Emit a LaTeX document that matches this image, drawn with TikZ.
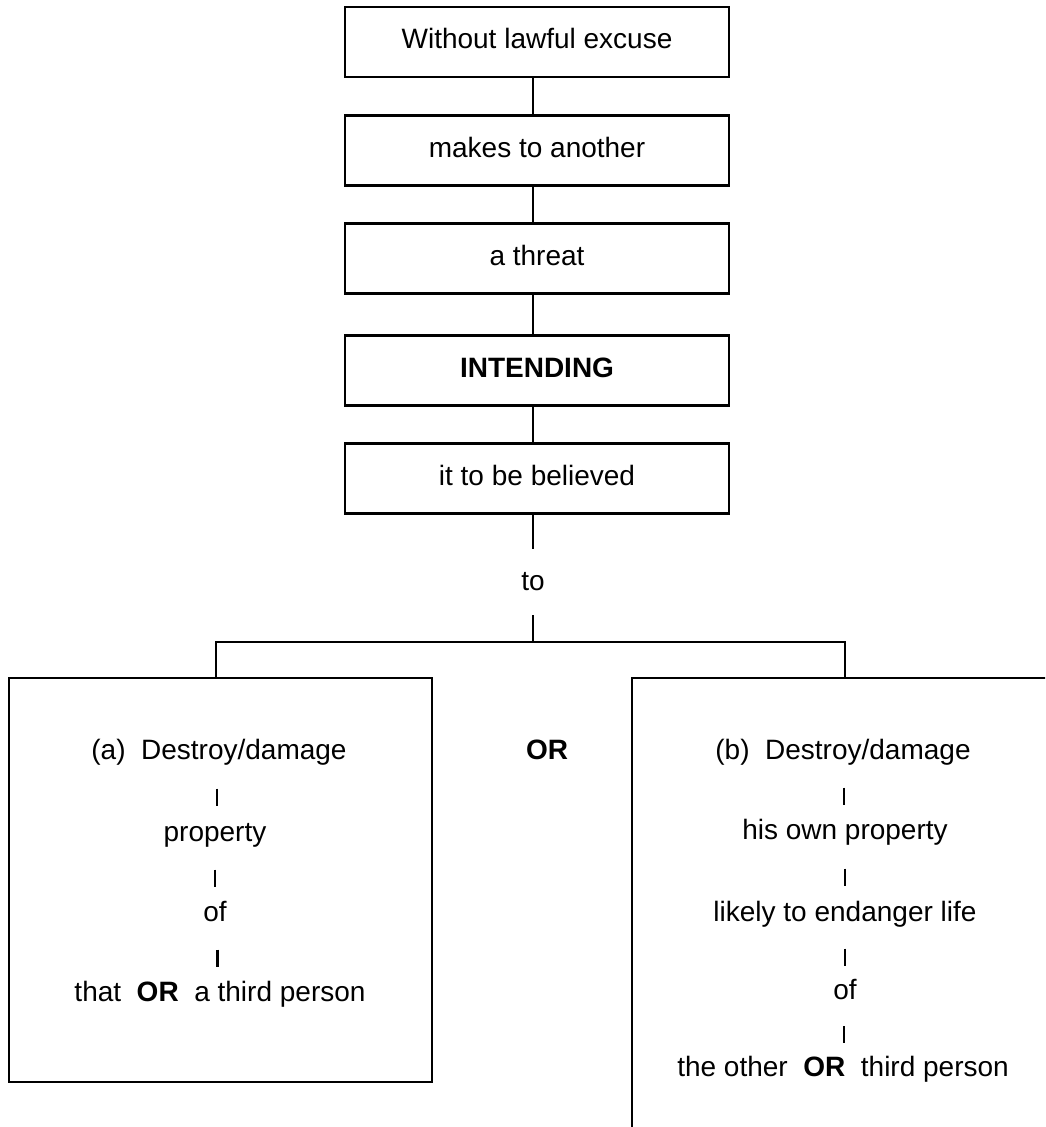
\documentclass[tikz,border=0pt]{standalone}
\usepackage{fontspec}
\setmainfont{Liberation Sans}
\usetikzlibrary{calc}
\newcommand\mybar[2]{\draw[barline] ($(#1.base)!0.5!(#2.base)+(0,-11.5)$) -- ($(#1.base)!0.5!(#2.base)+(0,5.5)$);}
\begin{document}
\begin{tikzpicture}[x=0.75pt,y=-0.75pt,line width=1.6pt,
  font=\fontsize{21}{25}\selectfont,
  stepbox/.style={draw,minimum width=288pt,minimum height=52.5pt,inner sep=0pt,text height=15pt,text depth=5pt},
  bigbox/.style={draw,inner sep=0pt},
  txt/.style={inner sep=0pt,anchor=base},
  barline/.style={line width=2pt}]
\useasboundingbox (0,0) rectangle (1045,1127);
\fill[white] (0,0) rectangle (1045,1127);
\clip (0,0) rectangle (1045,1127);
% top chain
\node[stepbox] (b1) at (537,42) {Without lawful excuse};
\node[stepbox] (b2) at (537,150.5) {makes to another};
\node[stepbox] (b3) at (537,258.5) {a threat};
\node[stepbox] (b4) at (537,370.5) {\textbf{INTENDING}};
\node[stepbox] (b5) at (537,478.5) {it to be believed};
\node[inner sep=0pt,minimum height=48pt] (to) at (533,582) {to};
\coordinate (jl) at (216,642);
\coordinate (jr) at (845,642);
% big boxes
\node[bigbox,minimum width=317.25pt,minimum height=303pt] (boxa) at (220.5,880) {};
\node[bigbox,minimum width=316.5pt,minimum height=391.5pt] (boxb) at (843,939) {};
% connectors
\draw (b1.south -| to) -- (b2.north -| to);
\draw (b2.south -| to) -- (b3.north -| to);
\draw (b3.south -| to) -- (b4.north -| to);
\draw (b4.south -| to) -- (b5.north -| to);
\draw (b5.south -| to) -- (to.north);
\draw (to.south) -- (to.south |- jl);
\draw (jl |- boxa.north) -- (jl) -- (jr) -- (jr |- boxb.north);
% middle OR
\node[txt] (mor) at (547,759) {\textbf{OR}};
% left box texts
\node[txt] (a1) at (219,759) {(a)\ \ Destroy/damage};
\node[txt] (a2) at (215,841) {property};
\node[txt] (a3) at (215,921) {of};
\node[txt] (a4) at (220,1001) {that\ \ \textbf{OR}\ \ a third person};
\mybar{a1}{a2}
\mybar{a2}{a3}
\mybar{a3}{a4}
% right box texts
\node[txt] (r1) at (843,759) {(b)\ \ Destroy/damage};
\node[txt] (r2) at (845,839) {his own property};
\node[txt] (r3) at (845,921) {likely to endanger life};
\node[txt] (r4) at (845,999) {of};
\node[txt] (r5) at (843,1076) {the other\ \ \textbf{OR}\ \ third person};
\mybar{r1}{r2}
\mybar{r2}{r3}
\mybar{r3}{r4}
\mybar{r4}{r5}
\end{tikzpicture}
\end{document}
